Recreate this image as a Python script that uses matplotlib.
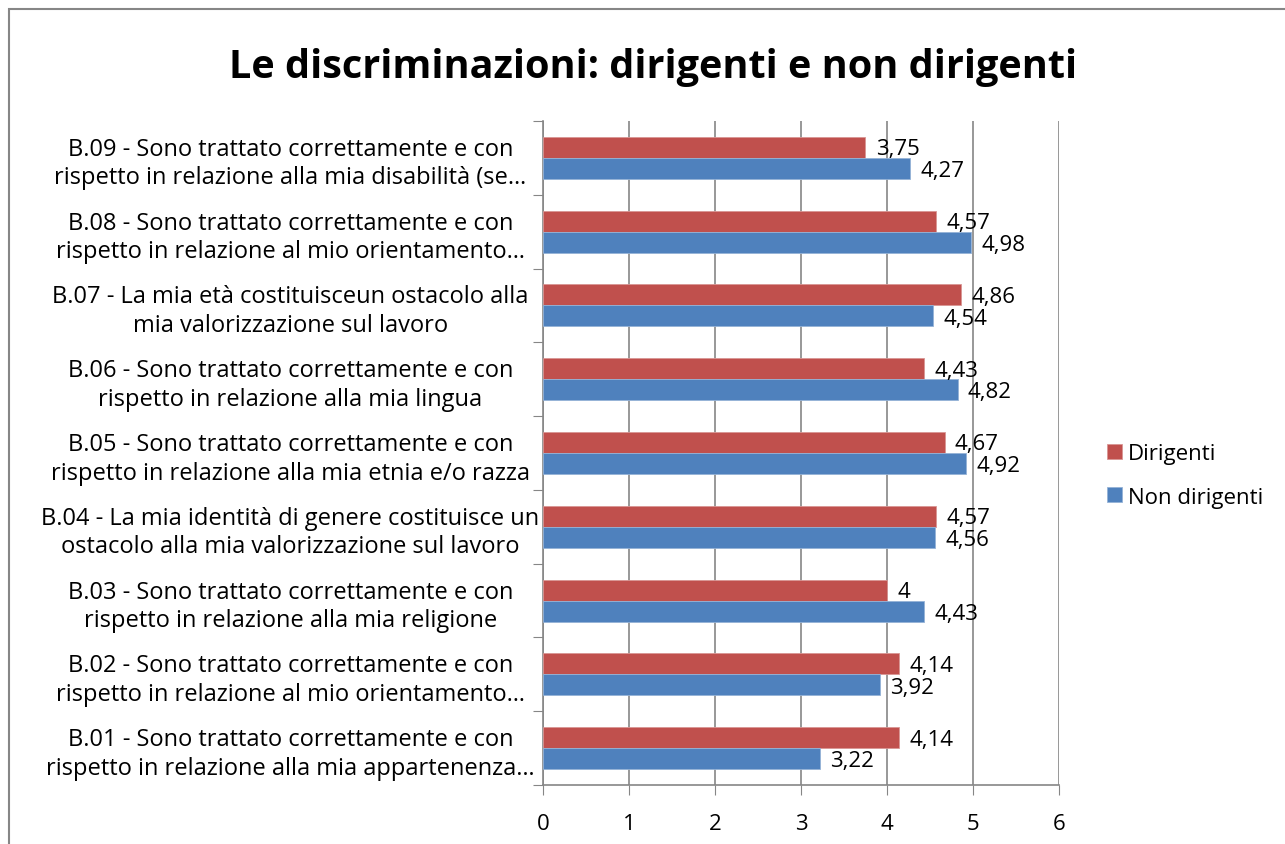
import matplotlib
matplotlib.use("Agg")
from matplotlib import pyplot as plt
from matplotlib.patches import Rectangle
import numpy as np

plt.rcParams['font.family'] = ['Open Sans', 'DejaVu Sans']

# dati (dal basso verso l'alto)
etichette = [
    "B.01 - Sono trattato correttamente e con\nrispetto in relazione alla mia appartenenza…",
    "B.02 - Sono trattato correttamente e con\nrispetto in relazione al mio orientamento…",
    "B.03 - Sono trattato correttamente e con\nrispetto in relazione alla mia religione",
    "B.04 - La mia identità di genere costituisce un\nostacolo alla mia valorizzazione sul lavoro",
    "B.05 - Sono trattato correttamente e con\nrispetto in relazione alla mia etnia e/o razza",
    "B.06 - Sono trattato correttamente e con\nrispetto in relazione alla mia lingua",
    "B.07 - La mia età costituisceun ostacolo alla\nmia valorizzazione sul lavoro",
    "B.08 - Sono trattato correttamente e con\nrispetto in relazione al mio orientamento…",
    "B.09 - Sono trattato correttamente e con\nrispetto in relazione alla mia disabilità (se…",
]
dirigenti = [4.14, 4.14, 4.0, 4.57, 4.67, 4.43, 4.86, 4.57, 3.75]
non_dirigenti = [3.22, 3.92, 4.43, 4.56, 4.92, 4.82, 4.54, 4.98, 4.27]

rosso = '#C0504D'
blu = '#4F81BD'

fig = plt.figure(figsize=(12.85, 8.45), dpi=100)
ax = fig.add_axes([0.4226, 0.0698, 0.4015, 0.7858])

y = np.arange(len(etichette))
h = 0.285
ax.barh(y + h / 2, dirigenti, height=h, color=rosso, edgecolor='#D99694', linewidth=0.6, label='Dirigenti', zorder=3)
ax.barh(y - h / 2, non_dirigenti, height=h, color=blu, edgecolor='#95B3D7', linewidth=0.6, label='Non dirigenti', zorder=3)

def fmt(v):
    s = ('%.2f' % v).rstrip('0').rstrip('.')
    return s.replace('.', ',')

for i in range(len(etichette)):
    ax.text(dirigenti[i] + 0.12, y[i] + h / 2 - 0.02, fmt(dirigenti[i]), va='center', ha='left', fontsize=16, zorder=4)
    ax.text(non_dirigenti[i] + 0.12, y[i] - h / 2 - 0.03, fmt(non_dirigenti[i]), va='center', ha='left', fontsize=16, zorder=4)

ax.set_xlim(0, 6)
ax.set_ylim(-0.5, len(etichette) - 0.5)
ax.set_xticks(range(7))
ax.tick_params(axis='x', labelsize=16, length=7, color='#868686', pad=13)
ax.grid(axis='x', color='#868686', linewidth=1.2, zorder=0)

ax.set_yticks(np.arange(-0.5, len(etichette), 1))
ax.set_yticklabels([])
ax.set_yticks(y, minor=True)
ax.set_yticklabels(etichette, minor=True, fontsize=17, ha='center', linespacing=1.25)
ax.tick_params(axis='y', which='minor', length=0, pad=182)
ax.tick_params(axis='y', which='major', length=7, color='#868686')

for s in ['top', 'right']:
    ax.spines[s].set_visible(False)
for s in ['left', 'bottom']:
    ax.spines[s].set_color('#868686')
    ax.spines[s].set_linewidth(1.2)

fig.text(0.508, 0.92, 'Le discriminazioni: dirigenti e non dirigenti', ha='center', va='center',
         fontsize=28.5, fontweight='bold')

fig.legend(loc='center left', bbox_to_anchor=(0.846, 0.436), frameon=False, fontsize=16,
           handlelength=0.65, handleheight=0.65, handletextpad=0.3, labelspacing=1.0)

fig.patches.append(Rectangle((9 / 1285, -0.01), 1.02, 1 - 10 / 845 + 0.01, transform=fig.transFigure,
                             fill=False, edgecolor='#868686', linewidth=1.5))

fig.savefig('out.png', dpi=100)
